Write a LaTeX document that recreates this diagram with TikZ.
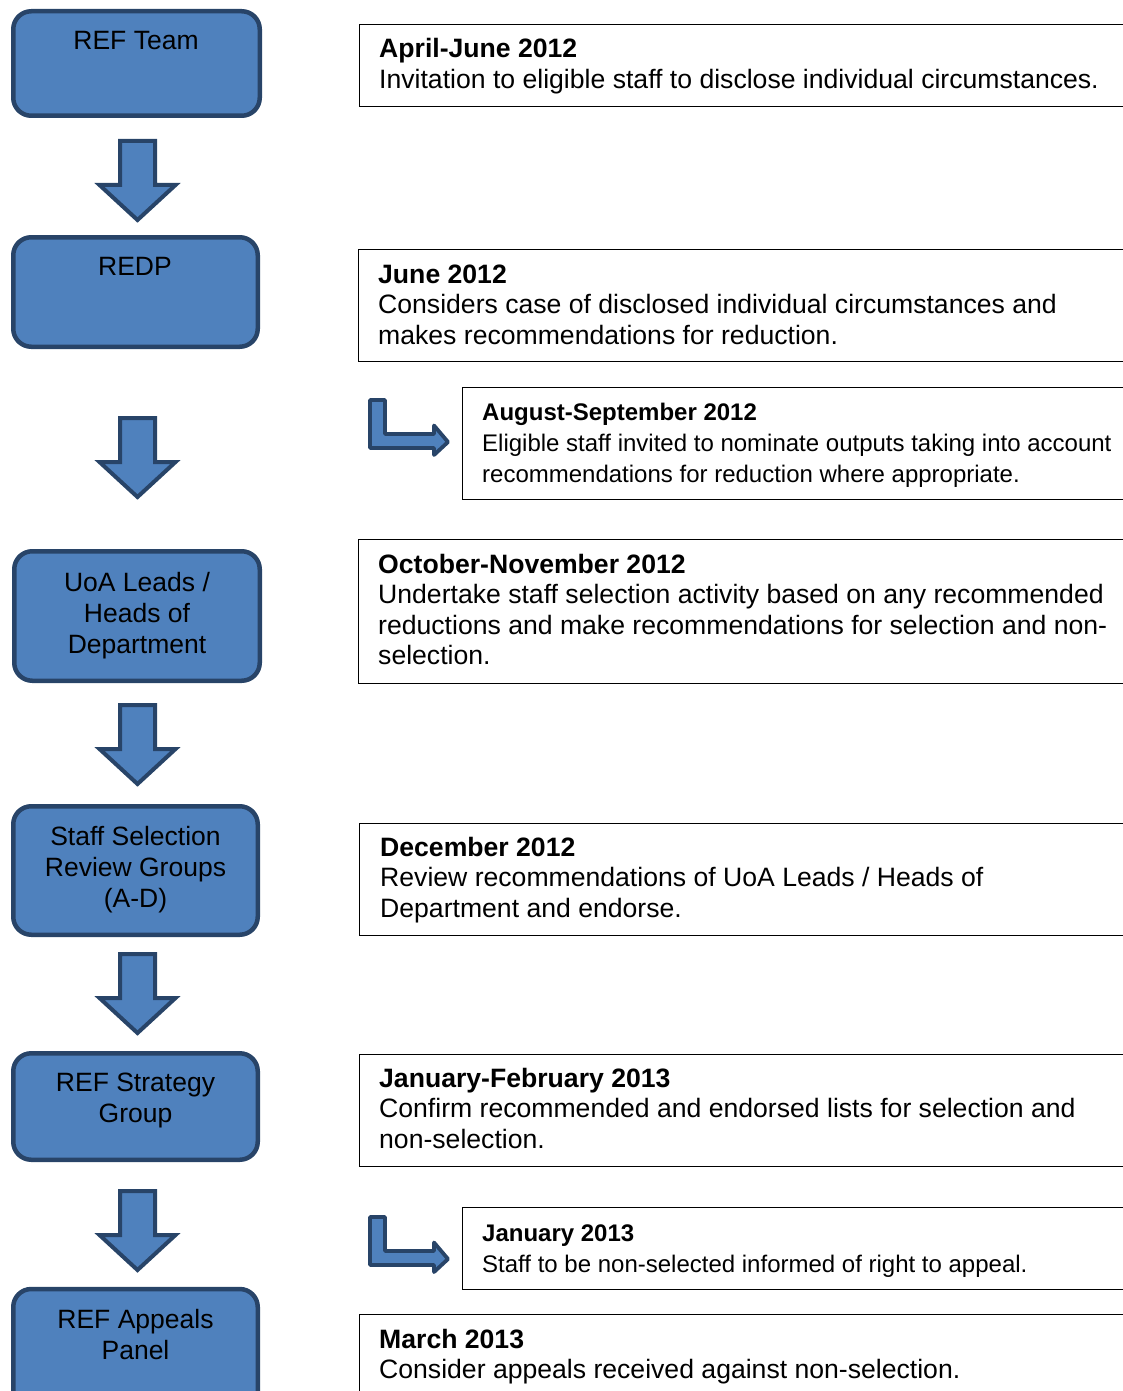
\documentclass[tikz,border=0pt]{standalone}
\usepackage{fontspec}
\setmainfont{Liberation Sans}
\definecolor{boxfill}{RGB}{79,129,189}
\definecolor{boxline}{RGB}{40,68,104}
\tikzset{
  x=1pt, y=-1pt,
  lbox/.style={draw=boxline, fill=boxfill, line width=4.5pt, rounded corners=18pt, inner sep=0pt},
  ltext/.style={anchor=base, align=center, inner sep=0pt, font=\fontsize{26.5}{30.6}\selectfont},
  rbox/.style={draw=black, line width=1.6pt, inner sep=0pt, anchor=north west},
  rtext/.style={anchor=base west, align=left, inner sep=0pt, font=\fontsize{26.6}{30.5}\selectfont},
  stext/.style={anchor=base west, align=left, inner sep=0pt, font=\fontsize{24}{31}\selectfont},
  downarrow/.pic={\draw[draw=boxline, fill=boxfill, line width=4pt, line join=miter]
     (-17.5,2) -- (17.5,2) -- (17.5,46) -- (38,46) -- (0,81) -- (-38,46) -- (-17.5,46) -- cycle;},
  bentarrow/.pic={\draw[draw=boxline, fill=boxfill, line width=3.8pt, line join=round]
     (0,0) -- (15,0) -- (15,34) -- (64,34) -- (64,25.5) -- (78,42) -- (64,55) -- (64,48) -- (0,48) -- cycle;},
}
\begin{document}
\begin{tikzpicture}
\useasboundingbox (0,0) rectangle (1123,1391);
% left boxes
\node[lbox, minimum width=246.5pt, minimum height=104.5pt] (b1) at (136.5,63.5) {};
\node[lbox, minimum width=244.5pt, minimum height=109.5pt] (b2) at (135.5,292) {};
\node[lbox, minimum width=245.5pt, minimum height=129.5pt] (b3) at (137,616) {};
\node[lbox, minimum width=244.5pt, minimum height=128.5pt] (b4) at (135.5,870.5) {};
\node[lbox, minimum width=244.5pt, minimum height=106.5pt] (b5) at (135.5,1106.5) {};
\node[lbox, minimum width=244.5pt, minimum height=140pt] (b6) at (135.5,1359) {};
% (base = baseline of last line)
\node[ltext] (t1) at (136,50) {REF Team};
\node[ltext] (t2) at (135,275) {REDP};
\node[ltext] (t3) at (137,653) {UoA Leads /\\Heads of\\Department};
\node[ltext] (t4) at (135.5,907) {Staff Selection\\Review Groups\\(A-D)};
\node[ltext] (t5) at (135.5,1122) {REF Strategy\\Group};
\node[ltext] (t6) at (135.5,1359) {REF Appeals\\Panel};
% down arrows
\pic at (137.5,139) {downarrow};
\pic at (137.5,416) {downarrow};
\pic at (137.5,703) {downarrow};
\pic at (137.5,952) {downarrow};
\pic at (137.5,1189) {downarrow};
% bent arrows
\pic at (370,400) {bentarrow};
\pic at (370,1217) {bentarrow};
% right boxes
\node[rbox, minimum width=800pt, minimum height=82pt] (r1) at (358.8,23.8) {};
\node[rbox, minimum width=800pt, minimum height=112pt] (r2) at (357.8,248.8) {};
\node[rbox, minimum width=800pt, minimum height=112pt] (r3) at (461.8,386.8) {};
\node[rbox, minimum width=800pt, minimum height=144pt] (r4) at (357.8,538.8) {};
\node[rbox, minimum width=800pt, minimum height=112pt] (r5) at (358.8,822.8) {};
\node[rbox, minimum width=800pt, minimum height=112pt] (r6) at (358.8,1053.8) {};
\node[rbox, minimum width=800pt, minimum height=82pt] (r7) at (461.8,1206.8) {};
\node[rbox, minimum width=800pt, minimum height=150pt] (r8) at (358.8,1313.8) {};
\node[rtext] (x1) at (379,88.5) {\textbf{April-June 2012}\\Invitation to eligible staff to disclose individual circumstances.};
\node[rtext] (x2) at (378,344) {\textbf{June 2012}\\Considers case of disclosed individual circumstances and\\makes recommendations for reduction.};
\node[stext] (x3) at (482,482) {\textbf{August-September 2012}\\Eligible staff invited to nominate outputs taking into account\\recommendations for reduction where appropriate.};
\node[rtext] (x4) at (378,664.5) {\textbf{October-November 2012}\\Undertake staff selection activity based on any recommended\\reductions and make recommendations for selection and non-\\selection.};
\node[rtext] (x5) at (380,917) {\textbf{December 2012}\\Review recommendations of UoA Leads / Heads of\\Department and endorse.};
\node[rtext] (x6) at (379,1148) {\textbf{January-February 2013}\\Confirm recommended and endorsed lists for selection and\\non-selection.};
\node[stext] (x7) at (482,1272) {\textbf{January 2013}\\Staff to be non-selected informed of right to appeal.};
\node[rtext] (x8) at (379,1378.5) {\textbf{March 2013}\\Consider appeals received against non-selection.};
\end{tikzpicture}
\end{document}
